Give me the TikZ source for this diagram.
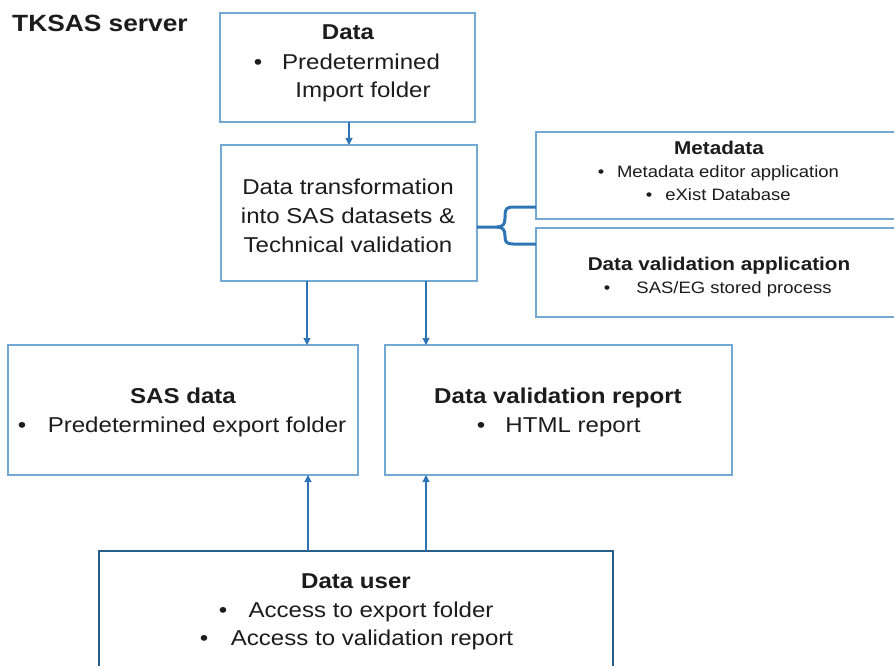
\documentclass[tikz,border=0pt]{standalone}
\usepackage{fontspec}
\setmainfont{Liberation Sans}[FakeStretch=1.12]
\usetikzlibrary{arrows.meta,calc}
\definecolor{boxblue}{RGB}{115,168,212}
\definecolor{linkblue}{RGB}{46,117,182}
\definecolor{userblue}{RGB}{38,94,135}
\definecolor{txt}{RGB}{28,28,28}
\begin{document}
\begin{tikzpicture}[x=1pt,y=-1pt,
  box/.style={draw=boxblue,line width=1.8pt,fill=white,anchor=north west,inner sep=0pt,outer sep=0pt},
  userbox/.style={box,draw=userblue,line width=2.6pt},
  arr/.style={draw=linkblue,line width=1.1pt,-{Triangle[length=7pt,width=7pt]}},
  bracel/.style={draw=linkblue,line width=3pt},
  tx/.style={text=txt,inner sep=0pt,anchor=base,font=\fontsize{21.5}{26}\selectfont},
  tb/.style={tx,font=\fontsize{21.5}{26}\selectfont\bfseries},
  sm/.style={tx,font=\fontsize{16.5}{20}\selectfont},
  smb/.style={tx,font=\fontsize{18.5}{22}\selectfont\bfseries},
  ttl/.style={tx,anchor=base west,font=\fontsize{23.5}{28}\selectfont\bfseries}]
\useasboundingbox (0,0) rectangle (894,666);

% boxes
\node[box,minimum width=255pt,minimum height=109pt] (data) at (220,13) {};
\node[box,minimum width=256pt,minimum height=136pt] (trans) at (221,145) {};
\node[box,minimum width=364pt,minimum height=87pt] (meta) at (536,132) {};
\node[box,minimum width=364pt,minimum height=89pt] (dva) at (536,228) {};
\node[box,minimum width=350pt,minimum height=130pt] (sas) at (8,345) {};
\node[box,minimum width=347pt,minimum height=130pt] (rep) at (385,345) {};
\node[userbox,minimum width=514pt,minimum height=150pt] (user) at (99,551) {};

% title
\node[ttl] (server) at (12,32) {TKSAS server};

% data box text
\node[tb] (dataT) at (348,40) {Data};
\node[tx] (dataB) at (258,70) {•};
\node[tx] (dataL1) at (361,70) {Predetermined};
\node[tx] (dataL2) at (363,98) {Import folder};

% transformation text
\node[tx] (trL1) at (348,194) {Data transformation};
\node[tx] (trL2) at (348,223) {into SAS datasets \&};
\node[tx] (trL3) at (348,252) {Technical validation};

% metadata text
\node[smb] (metaT) at (719,154) {Metadata};
\node[sm] (metaB1) at (601,177) {•};
\node[sm] (metaL1) at (728,177) {Metadata editor application};
\node[sm] (metaB2) at (649,200) {•};
\node[sm] (metaL2) at (728,200) {eXist Database};

% data validation application text
\node[smb] (dvaT) at (719,270) {Data validation application};
\node[sm] (dvaB) at (607,293) {•};
\node[sm] (dvaL) at (734,293) {SAS/EG stored process};

% SAS data text
\node[tb] (sasT) at (183,403) {SAS data};
\node[tx] (sasB) at (22,432) {•};
\node[tx] (sasL) at (197,432) {Predetermined export folder};

% report text
\node[tb] (repT) at (558,403) {Data validation report};
\node[tx] (repB) at (481,432) {•};
\node[tx] (repL) at (573,432) {HTML report};

% data user text
\node[tb] (userT) at (356,588) {Data user};
\node[tx] (userB1) at (223,617) {•};
\node[tx] (userL1) at (371,617) {Access to export folder};
\node[tx] (userB2) at (204,645) {•};
\node[tx] (userL2) at (372,645) {Access to validation report};

% arrows
\draw[arr] (349,0 |- data.south) -- (349,0 |- trans.north);
\draw[arr] (307,0 |- trans.south) -- (307,0 |- sas.north);
\draw[arr] (426,0 |- trans.south) -- (426,0 |- rep.north);
\draw[arr] (308,0 |- user.north) -- (308,0 |- sas.south);
\draw[arr] (426,0 |- user.north) -- (426,0 |- rep.south);

% brace
\coordinate (bstem) at (trans.east |- 0,227);
\draw[bracel] (bstem) -- (497,227)
  .. controls (503,227) and (505,224) .. (505,218) -- (505,215)
  .. controls (505,209) and (507,207) .. (513,207) -- (meta.west |- 0,207);
\draw[bracel] (497,227)
  .. controls (503,227) and (505,230) .. (505,236) -- (505,237)
  .. controls (505,242) and (507,244) .. (513,244) -- (dva.west |- 0,244);
\end{tikzpicture}
\end{document}
